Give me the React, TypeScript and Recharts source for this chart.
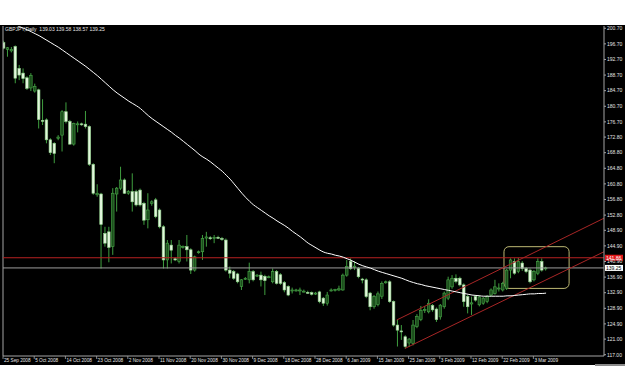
import { Bar, ComposedChart, Line, ReferenceArea, ReferenceLine, XAxis, YAxis } from 'recharts';

// GBPJPY daily, 25 Sep 2008 .. 6 Mar 2009 (one bar per trading day incl. Sundays)
const DATE_LABELS = [
  '25 Sep 2008', '5 Oct 2008', '14 Oct 2008', '23 Oct 2008', '2 Nov 2008', '11 Nov 2008',
  '20 Nov 2008', '30 Nov 2008', '9 Dec 2008', '18 Dec 2008', '28 Dec 2008', '6 Jan 2009',
  '15 Jan 2009', '25 Jan 2009', '3 Feb 2009', '12 Feb 2009', '22 Feb 2009', '3 Mar 2009',
];
const DATE_TICKS = [0, 8, 16, 24, 32, 40, 48, 56, 64, 72, 80, 88, 96, 104, 112, 120, 128, 136];

const OPEN = [
  197.0, 195.3, 194.9, 196.0, 190.4, 189.2, 188.0, 185.4, 184.6, 184.9,
  177.1, 177.2, 172.1, 171.2, 172.5, 173.3, 179.3, 176.8, 171.0, 176.0,
  176.2, 176.1, 175.5, 165.8, 158.0, 158.2, 148.1, 148.5, 144.7, 158.2,
  159.7, 161.8, 158.4, 158.8, 158.8, 159.2, 155.8, 151.6, 155.8, 156.7,
  154.1, 149.8, 141.3, 145.1, 141.6, 140.9, 144.6, 144.7, 143.9, 138.7,
  143.2, 143.4, 146.9, 147.0, 146.8, 147.1, 146.8, 146.4, 138.7, 138.3,
  137.7, 134.5, 136.4, 136.2, 138.3, 137.2, 137.4, 137.1, 136.8, 135.7,
  138.3, 137.5, 135.5, 134.5, 133.4, 133.5, 133.4, 133.3, 133.0, 132.9,
  132.6, 133.1, 131.5, 130.2, 133.4, 133.5, 133.6, 133.6, 137.4, 140.9,
  139.5, 139.1, 136.4, 136.2, 132.8, 129.3, 129.9, 132.0, 135.5, 135.7,
  130.6, 124.6, 123.1, 121.6, 120.0, 119.9, 124.2, 126.0, 128.3, 128.0,
  129.6, 128.7, 126.7, 129.3, 131.5, 134.4, 136.6, 136.6, 134.9, 131.9,
  130.0, 131.9, 129.8, 130.2, 130.6, 132.3, 132.7, 133.9, 133.6, 134.0,
  138.7, 140.9, 138.3, 140.5, 139.1, 138.7, 136.2, 137.9, 140.9, 139.03,
];
const HIGH = [
  197.5, 195.9, 195.9, 196.3, 191.3, 190.4, 188.4, 189.2, 186.5, 185.2,
  182.5, 177.6, 172.5, 171.5, 173.3, 179.7, 181.7, 177.2, 176.5, 176.8,
  176.5, 179.5, 175.8, 166.1, 160.7, 158.5, 149.8, 149.8, 159.7, 160.0,
  165.2, 162.2, 159.2, 163.5, 159.3, 159.6, 156.2, 158.4, 156.6, 157.2,
  154.5, 150.2, 146.4, 146.4, 142.0, 146.4, 145.0, 147.7, 144.3, 142.4,
  143.7, 147.7, 148.5, 147.4, 147.7, 147.5, 147.2, 146.8, 139.6, 138.7,
  138.0, 136.4, 136.9, 140.6, 138.7, 137.7, 138.3, 137.5, 137.3, 139.1,
  138.7, 137.9, 135.9, 134.8, 134.2, 133.9, 134.2, 133.7, 133.4, 133.2,
  133.1, 133.4, 131.8, 133.1, 134.0, 133.9, 134.7, 137.8, 141.3, 141.7,
  140.9, 139.5, 136.7, 136.6, 133.1, 132.3, 133.2, 135.8, 136.0, 136.1,
  130.9, 125.9, 124.6, 122.0, 121.3, 125.9, 127.4, 129.5, 129.5, 131.2,
  130.0, 129.1, 130.0, 133.2, 137.0, 137.4, 137.6, 137.0, 135.3, 132.3,
  131.9, 132.3, 132.2, 131.8, 132.3, 134.0, 136.2, 135.3, 135.7, 139.0,
  141.7, 141.7, 141.8, 141.0, 139.5, 139.1, 138.7, 141.7, 141.7, 139.58,
];
const LOW = [
  195.3, 193.4, 194.5, 186.6, 187.4, 186.6, 184.9, 184.6, 184.2, 175.0,
  175.9, 171.2, 168.2, 166.1, 172.0, 169.1, 176.3, 170.8, 170.6, 174.0,
  175.7, 175.0, 165.4, 158.0, 157.5, 139.1, 144.7, 140.7, 142.6, 153.7,
  159.2, 158.2, 158.0, 153.7, 155.0, 155.0, 150.3, 149.4, 155.2, 152.0,
  149.4, 139.1, 139.1, 140.4, 141.0, 140.4, 144.2, 140.9, 137.7, 138.3,
  142.9, 141.3, 144.7, 146.4, 145.6, 146.7, 146.2, 138.3, 136.6, 136.2,
  135.3, 133.6, 136.2, 135.3, 135.8, 136.9, 134.5, 132.3, 136.6, 135.3,
  135.0, 134.9, 133.0, 132.0, 132.7, 133.2, 132.3, 133.0, 132.6, 132.2,
  132.3, 130.2, 129.5, 129.6, 133.2, 133.2, 133.3, 133.4, 137.0, 138.7,
  138.7, 136.6, 135.3, 131.5, 128.4, 128.8, 129.4, 131.3, 135.2, 130.3,
  124.2, 119.1, 120.8, 118.6, 119.0, 119.4, 123.8, 125.6, 127.7, 127.6,
  128.0, 125.4, 126.0, 128.8, 131.0, 133.9, 135.3, 134.5, 129.3, 127.6,
  127.2, 130.6, 129.4, 129.8, 130.2, 131.9, 132.4, 133.2, 133.2, 133.6,
  136.6, 137.5, 137.9, 138.5, 137.9, 135.3, 135.8, 137.4, 138.3, 138.57,
];
const CLOSE = [
  195.6, 195.7, 195.3, 187.9, 188.7, 187.8, 185.3, 188.6, 185.8, 177.3,
  177.0, 172.1, 168.8, 168.6, 172.8, 179.3, 176.8, 171.0, 176.3, 176.2,
  176.0, 175.5, 165.8, 158.4, 158.4, 150.4, 145.6, 144.5, 158.4, 159.7,
  161.8, 158.4, 158.8, 156.2, 155.4, 155.4, 151.5, 154.1, 156.2, 152.4,
  149.8, 141.3, 145.6, 143.8, 141.3, 145.1, 144.8, 143.9, 138.7, 142.1,
  143.4, 146.8, 147.2, 146.8, 147.1, 147.0, 146.6, 138.7, 137.9, 136.6,
  135.7, 136.2, 136.6, 138.3, 136.2, 137.4, 136.2, 136.0, 137.0, 138.3,
  135.3, 135.3, 133.6, 132.3, 133.6, 133.6, 133.6, 133.3, 132.8, 132.5,
  132.8, 130.6, 130.2, 132.3, 133.6, 133.7, 133.9, 137.4, 139.6, 139.1,
  139.7, 137.0, 136.2, 131.9, 129.3, 131.9, 132.6, 135.3, 135.7, 130.6,
  124.6, 123.3, 122.9, 119.1, 121.0, 124.6, 126.8, 128.4, 128.6, 130.2,
  128.5, 126.0, 129.7, 132.8, 136.2, 136.6, 135.8, 134.9, 130.6, 129.3,
  130.3, 131.0, 131.8, 131.5, 131.9, 133.6, 134.4, 134.1, 135.3, 138.7,
  141.3, 137.9, 140.9, 139.1, 138.3, 135.7, 138.3, 140.9, 138.7, 139.25,
];
// moving average (white line), starts above the visible range
const MA = [
  null, null, null, 201.6, 201.1, 200.7, 200.3, 199.8, 199.3, 198.8,
  198.2, 197.6, 197.0, 196.4, 195.8, 195.1, 194.4, 193.7, 193.0, 192.3,
  191.6, 190.9, 190.1, 189.3, 188.5, 187.6, 186.7, 185.8, 184.9, 184.1,
  183.4, 182.7, 182.0, 181.4, 180.8, 180.1, 179.2, 178.3, 177.5, 176.8,
  176.1, 175.4, 174.7, 174.0, 173.2, 172.5, 171.7, 170.9, 170.1, 169.3,
  168.4, 167.7, 167.1, 166.4, 165.6, 164.8, 164.0, 163.0, 162.0, 160.8,
  159.6, 158.4, 157.3, 156.3, 155.4, 154.7, 154.0, 153.3, 152.6, 152.0,
  151.3, 150.7, 150.1, 149.4, 148.6, 147.9, 147.2, 146.4, 145.6, 145.0,
  144.4, 143.8, 143.3, 143.0, 142.8, 142.5, 142.3, 142.0, 141.6, 141.2,
  140.7, 140.2, 139.8, 139.5, 139.2, 138.8, 138.4, 138.1, 137.8, 137.5,
  137.2, 136.9, 136.6, 136.2, 135.8, 135.5, 135.2, 135.0, 134.7, 134.5,
  134.3, 134.1, 133.9, 133.7, 133.5, 133.3, 133.1, 132.9, 132.7, 132.5,
  132.3, 132.2, 132.1, 132.0, 132.0, 132.0, 132.0, 132.0, 132.0, 132.1,
  132.1, 132.2, 132.3, 132.4, 132.5, 132.6, 132.6, 132.7, 132.7, 132.8,
];

const PRICE_TICKS = [
  200.7, 196.7, 192.7, 188.7, 184.7, 180.7, 176.7, 172.8, 168.8, 164.8, 160.8,
  156.8, 152.8, 148.9, 144.9, 140.9, 136.9, 132.9, 128.9, 124.9, 121.0, 117.0,
];
const RESIST = 141.86;
const BID = 139.25;
const CHANNEL_UP = [{ x: 100.7, y: 125.9 }, { x: 153.85, y: 152.0 }];
const CHANNEL_DN = [{ x: 102.8, y: 118.6 }, { x: 153.85, y: 143.4 }];
const BOX_X = [128.2, 144.9];
const BOX_Y = [134.0, 144.7];

const X_DOMAIN: [number, number] = [-0.26, 153.85];
const Y_DOMAIN: [number, number] = [116.67, 201.28];

const rows = OPEN.map((o, i) => ({
  i,
  o,
  h: HIGH[i],
  l: LOW[i],
  c: CLOSE[i],
  ma: MA[i],
}));

const AXIS = '#a4a4a4';
const TXT = '#e4e4e4';
const FONT = 'Liberation Sans, Arial, sans-serif';

function Candle(props: any) {
  const { x, y, width, height, payload } = props;
  if (x == null || y == null || !payload) return null;
  const top = Math.min(y, y + height);
  const span = Math.abs(height);
  const { o, h, l, c } = payload;
  const at = (p: number) => (h === l ? top : top + ((h - p) / (h - l)) * span);
  const cx = x + width / 2;
  const bull = c >= o;
  const bTop = at(Math.max(o, c));
  const bH = Math.max(at(Math.min(o, c)) - bTop, 1);
  return (
    <g>
      <line x1={cx} x2={cx} y1={top} y2={top + span} stroke="#3f9e3f" strokeWidth={1} />
      <rect
        x={cx - 1.3}
        y={bTop}
        width={2.6}
        height={bH}
        fill={bull ? '#1c4f1c' : '#e2f6dc'}
        stroke={bull ? '#49a849' : '#8fd08a'}
        strokeWidth={0.6}
      />
    </g>
  );
}

function DateTick(props: any) {
  const { x, y, payload } = props;
  const k = DATE_TICKS.indexOf(payload.value);
  return (
    <g>
      <line x1={x - 1} x2={x - 1} y1={y} y2={y + 3} stroke={AXIS} strokeWidth={0.8} />
      <text x={x} y={y + 6.3} fontSize={4.7} fontFamily={FONT} fill={TXT}>
        {DATE_LABELS[k]}
      </text>
    </g>
  );
}

function PriceTick(props: any) {
  const { x, y, payload } = props;
  return (
    <text x={x} y={y + 1.8} fontSize={5} fontFamily={FONT} fill={TXT}>
      {payload.value.toFixed(2)}
    </text>
  );
}

function PriceTag({ viewBox, text, bg, fg }: any) {
  if (!viewBox) return null;
  const x = viewBox.x + viewBox.width;
  return (
    <g>
      <rect x={x + 1} y={viewBox.y - 3} width={18} height={6} fill={bg} />
      <text x={x + 2} y={viewBox.y + 1.8} fontSize={5} fontFamily={FONT} fill={fg}>
        {text}
      </text>
    </g>
  );
}

export default function App() {
  return (
    <div style={{ position: 'fixed', left: 0, top: 0, width: 625, height: 391, background: '#fff' }}>
      <div style={{ position: 'absolute', left: 0, top: 25, width: 625, height: 340, background: '#000' }}>
        <ComposedChart
          width={625}
          height={340}
          data={rows}
          margin={{ top: 1, right: 0, bottom: 0, left: 3 }}
        >
          <XAxis
            dataKey="i"
            type="number"
            domain={X_DOMAIN}
            allowDataOverflow
            ticks={DATE_TICKS}
            interval={0}
            height={9}
            tickSize={0}
            tickMargin={0}
            tickLine={false}
            axisLine={{ stroke: AXIS }}
            tick={<DateTick />}
          />
          <YAxis
            orientation="right"
            type="number"
            domain={Y_DOMAIN}
            allowDataOverflow
            ticks={PRICE_TICKS}
            interval={0}
            width={21}
            tickSize={2}
            tickMargin={1}
            tickLine={{ stroke: AXIS }}
            axisLine={{ stroke: AXIS }}
            tick={<PriceTick />}
          />
          <ReferenceLine x={X_DOMAIN[0]} stroke={AXIS} ifOverflow="visible" />
          <ReferenceLine
            y={BID}
            stroke="#9c9c9c"
            strokeWidth={1}
            label={<PriceTag text={BID.toFixed(2)} bg="#ffffff" fg="#000000" />}
          />
          <ReferenceLine
            y={RESIST}
            stroke="#b82222"
            strokeWidth={1}
            label={<PriceTag text={RESIST.toFixed(2)} bg="#e01818" fg="#ffffff" />}
          />
          <ReferenceLine segment={CHANNEL_UP} stroke="#a82626" strokeWidth={1} ifOverflow="visible" />
          <ReferenceLine segment={CHANNEL_DN} stroke="#a82626" strokeWidth={1} ifOverflow="visible" />
          <ReferenceArea
            x1={BOX_X[0]}
            x2={BOX_X[1]}
            y1={BOX_Y[0]}
            y2={BOX_Y[1]}
            ifOverflow="visible"
            shape={(p: any) => (
              <rect
                x={p.x}
                y={p.y}
                width={p.width}
                height={p.height}
                rx={5}
                ry={5}
                fill="none"
                stroke="#bdb873"
                strokeWidth={1}
              />
            )}
          />
          <Bar
            dataKey={(d: any) => [d.l, d.h]}
            barSize={3}
            shape={<Candle />}
            isAnimationActive={false}
          />
          <Line
            dataKey="ma"
            type="monotone"
            stroke="#ffffff"
            strokeWidth={1}
            dot={false}
            connectNulls={false}
            isAnimationActive={false}
          />
        </ComposedChart>
        <div
          style={{
            position: 'absolute',
            left: 5,
            top: 1,
            fontFamily: FONT,
            fontSize: 5,
            color: TXT,
            whiteSpace: 'pre',
            lineHeight: '7px',
          }}
        >
          {'GBPJPY,Daily  139.03 139.58 138.57 139.25'}
        </div>
      </div>
      <div style={{ position: 'absolute', left: 595, top: 364, width: 30, height: 2, background: '#8a8a8a' }} />
    </div>
  );
}
